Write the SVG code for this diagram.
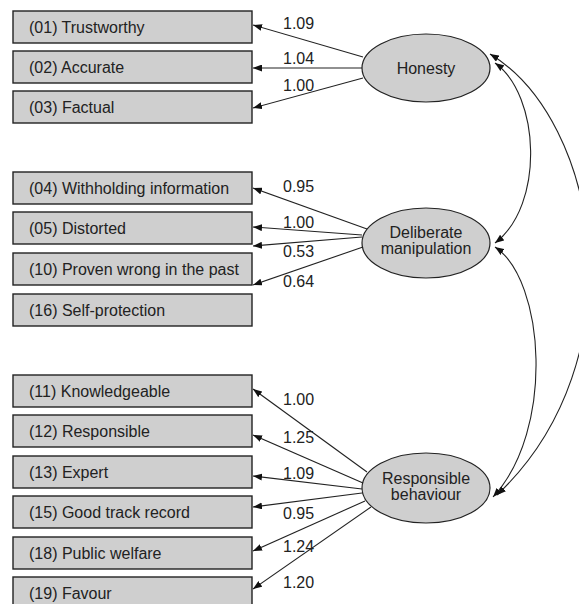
<svg xmlns="http://www.w3.org/2000/svg" width="579" height="604" viewBox="0 0 579 604">
<style>
.box{fill:#cfcfcf;stroke:#222;stroke-width:1.4}
.lat{fill:#cfcfcf;stroke:#222;stroke-width:1.2}
.t{font-family:"Liberation Sans",Arial,sans-serif;font-size:16px;fill:#222}
.c{text-anchor:middle}
.e{fill:none;stroke:#222;stroke-width:1.1}
</style>
<defs>
<marker id="ah" markerWidth="9" markerHeight="7" refX="9" refY="3.5" orient="auto-start-reverse" markerUnits="userSpaceOnUse">
<path d="M0,0 L9,3.5 L0,7 Z" fill="#111"/>
</marker>
</defs>
<rect width="579" height="604" fill="#fff"/>

<g id="n01"><rect class="box" x="13" y="11" width="239" height="32"/><text class="t" x="29" y="32.5">(01) Trustworthy</text></g>
<g id="n02"><rect class="box" x="13" y="51" width="239" height="32"/><text class="t" x="29" y="72.5">(02) Accurate</text></g>
<g id="n03"><rect class="box" x="13" y="91" width="239" height="32"/><text class="t" x="29" y="112.5">(03) Factual</text></g>
<g id="n04"><rect class="box" x="13" y="172" width="239" height="32"/><text class="t" x="29" y="193.5">(04) Withholding information</text></g>
<g id="n05"><rect class="box" x="13" y="212" width="239" height="32"/><text class="t" x="29" y="233.5">(05) Distorted</text></g>
<g id="n10"><rect class="box" x="13" y="253" width="239" height="32"/><text class="t" x="29" y="274.5">(10) Proven wrong in the past</text></g>
<g id="n16"><rect class="box" x="13" y="294" width="239" height="32"/><text class="t" x="29" y="315.5">(16) Self-protection</text></g>
<g id="n11"><rect class="box" x="13" y="375" width="239" height="32"/><text class="t" x="29" y="396.5">(11) Knowledgeable</text></g>
<g id="n12"><rect class="box" x="13" y="415" width="239" height="32"/><text class="t" x="29" y="436.5">(12) Responsible</text></g>
<g id="n13"><rect class="box" x="13" y="456" width="239" height="32"/><text class="t" x="29" y="477.5">(13) Expert</text></g>
<g id="n15"><rect class="box" x="13" y="496" width="239" height="32"/><text class="t" x="29" y="517.5">(15) Good track record</text></g>
<g id="n18"><rect class="box" x="13" y="537" width="239" height="32"/><text class="t" x="29" y="558.5">(18) Public welfare</text></g>
<g id="n19"><rect class="box" x="13" y="577" width="239" height="34"/><text class="t" x="29" y="598.5">(19) Favour</text></g>

<g id="honesty"><ellipse class="lat" cx="426" cy="68" rx="64" ry="34"/><text class="t c" x="426" y="74">Honesty</text></g>
<g id="deliberate"><ellipse class="lat" cx="426" cy="243" rx="64" ry="35"/><text class="t c" x="426" y="238">Deliberate</text><text class="t c" x="426" y="254">manipulation</text></g>
<g id="responsible"><ellipse class="lat" cx="426" cy="488" rx="64" ry="35"/><text class="t c" x="426" y="484">Responsible</text><text class="t c" x="426" y="500">behaviour</text></g>

<g id="connectors">
<path class="e" d="M363,57 L253,25" marker-end="url(#ah)"/>
<path class="e" d="M362,68 L253,68" marker-end="url(#ah)"/>
<path class="e" d="M363,78 L253,108" marker-end="url(#ah)"/>
<path class="e" d="M367,229 L253,188" marker-end="url(#ah)"/>
<path class="e" d="M362,235 L253,227" marker-end="url(#ah)"/>
<path class="e" d="M362,237 L253,246" marker-end="url(#ah)"/>
<path class="e" d="M363,247 L253,285" marker-end="url(#ah)"/>
<path class="e" d="M367,472 L253,389" marker-end="url(#ah)"/>
<path class="e" d="M363,483 L253,435" marker-end="url(#ah)"/>
<path class="e" d="M362,489 L253,476" marker-end="url(#ah)"/>
<path class="e" d="M362,493 L253,507" marker-end="url(#ah)"/>
<path class="e" d="M365,501 L253,551" marker-end="url(#ah)"/>
<path class="e" d="M371,507 L253,589" marker-end="url(#ah)"/>
<path class="e" d="M495,63 C540,95 545,205 495,243" marker-start="url(#ah)" marker-end="url(#ah)"/>
<path class="e" d="M495,247 C545,280 555,430 493,497" marker-start="url(#ah)" marker-end="url(#ah)"/>
<path class="e" d="M490,54 C600,120 640,360 497,495" marker-start="url(#ah)" marker-end="url(#ah)"/>
<text class="t" x="283" y="29">1.09</text>
<text class="t" x="283" y="64">1.04</text>
<text class="t" x="283" y="91">1.00</text>
<text class="t" x="283" y="192">0.95</text>
<text class="t" x="283" y="228">1.00</text>
<text class="t" x="283" y="257">0.53</text>
<text class="t" x="283" y="287">0.64</text>
<text class="t" x="283" y="405">1.00</text>
<text class="t" x="283" y="443">1.25</text>
<text class="t" x="283" y="479">1.09</text>
<text class="t" x="283" y="519">0.95</text>
<text class="t" x="283" y="552">1.24</text>
<text class="t" x="283" y="588">1.20</text>
</g>
</svg>
